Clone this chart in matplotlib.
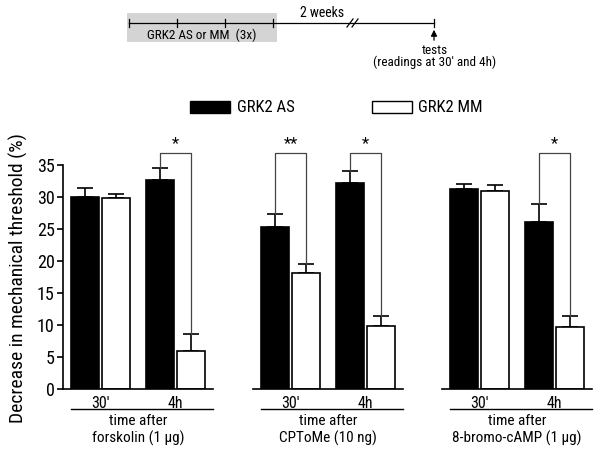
import matplotlib.pyplot as plt
from matplotlib.patches import Rectangle

plt.rcParams['font.family'] = ['Roboto Condensed', 'DejaVu Sans']

# data (% decrease in mechanical threshold)
times = ["30'", "4h"]
treatments = ["forskolin (1 \u03bcg)", "CPToMe (10 ng)", "8-bromo-cAMP (1 \u03bcg)"]
as_mean = [[30.0, 32.7], [25.3, 32.2], [31.2, 26.1]]
as_err = [[1.4, 1.9], [2.0, 1.8], [0.8, 2.8]]
mm_mean = [[29.9, 5.9], [18.1, 9.8], [31.0, 9.7]]
mm_err = [[0.6, 2.7], [1.4, 1.6], [0.9, 1.7]]
# significance brackets: (time index, label) per panel
sig = [[(1, '*')], [(0, '**'), (1, '*')], [(1, '*')]]

W, H = 600, 458
fig = plt.figure(figsize=(W / 100, H / 100), dpi=100)

# overlay for the timeline, legend and shared label (pixel coords)
ov = fig.add_axes([0, 0, 1, 1])
ov.set_xlim(0, W)
ov.set_ylim(H, 0)
ov.axis('off')

fs = 11
lefts = [63, 253, 442]
off, bw = 0.21, 0.373
for i, left in enumerate(lefts):
    ax = fig.add_axes([left / W, (H - 389) / H, 150 / W, 256 / H])
    x = [0, 1]
    xa = [g - off for g in x]
    xm = [g + off for g in x]
    ax.bar(xa, as_mean[i], bw, color='black', edgecolor='black', lw=1.2, zorder=2)
    ax.bar(xm, mm_mean[i], bw, color='white', edgecolor='black', lw=1.2, zorder=2)
    ax.errorbar(xa, as_mean[i], yerr=[[0, 0], as_err[i]], fmt='none', ecolor='black',
                elinewidth=1.2, capsize=6, capthick=1.2, zorder=1)
    ax.errorbar(xm, mm_mean[i], yerr=[[0, 0], mm_err[i]], fmt='none', ecolor='black',
                elinewidth=1.2, capsize=6, capthick=1.2, zorder=1)
    for t, lab in sig[i]:
        top = 36.9
        ya = as_mean[i][t] + as_err[i][t]
        ym = mm_mean[i][t] + mm_err[i][t]
        ax.plot([xa[t], xa[t], xm[t], xm[t]], [ya, top, top, ym], color='#444444',
                lw=0.9, clip_on=False)
        ax.text(t, top + 0.3, lab, ha='center', va='bottom', fontsize=12)
    ax.set_xlim(-0.5, 1.5)
    ax.set_ylim(0, 40)
    ax.spines['top'].set_visible(False)
    ax.spines['right'].set_visible(False)
    ax.spines['left'].set_bounds(0, 35)
    for s in ('left', 'bottom'):
        ax.spines[s].set_linewidth(1.2)
    ax.set_xticks([])
    ax.set_yticks(range(0, 36, 5))
    ax.tick_params(axis='y', length=4, width=1.2, labelsize=13, pad=2)
    if i > 0:
        ax.spines['left'].set_visible(False)
        ax.set_yticks([])
    for g, tl in zip(x, times):
        ax.text(g, -0.055, tl, transform=ax.get_xaxis_transform(), ha='center',
                va='center', fontsize=fs + 0.5)
    ax.plot([0.05, 1.0], [-0.078, -0.078], transform=ax.transAxes, color='black',
            lw=1.0, clip_on=False)
    ax.text(0.5, -0.125, 'time after', transform=ax.transAxes, ha='center',
            va='center', fontsize=fs)
    ax.text(0.5, -0.193, treatments[i], transform=ax.transAxes, ha='center',
            va='center', fontsize=fs)

fig.text(18 / W, 1 - 278 / H, 'Decrease in mechanical threshold (%)', rotation=90,
         ha='center', va='center', fontsize=14)

# legend
ov.add_patch(Rectangle((190, 101), 40, 12, facecolor='black', edgecolor='black', lw=1))
ov.text(237, 107, 'GRK2 AS', ha='left', va='center', fontsize=12)
ov.add_patch(Rectangle((372, 101), 40, 12, facecolor='white', edgecolor='black', lw=1))
ov.text(418, 107, 'GRK2 MM', ha='left', va='center', fontsize=12)

# treatment timeline
ov.add_patch(Rectangle((127, 13), 150, 29, facecolor='#d4d4d4', edgecolor='none'))
ov.plot([129, 434], [23, 23], color='black', lw=0.9)
for tx in [129, 177, 225, 273, 434]:
    ov.plot([tx, tx], [19, 27], color='black', lw=0.9)
for bx in [350, 355]:
    ov.plot([bx - 3, bx + 3], [27, 19], color='black', lw=0.9)
ov.annotate('', xy=(434, 27), xytext=(434, 43),
            arrowprops=dict(arrowstyle='-|>', color='black', lw=0.9, mutation_scale=9))
ov.text(202, 35, 'GRK2 AS or MM  (3x)', ha='center', va='center', fontsize=9.5)
ov.text(322, 13, '2 weeks', ha='center', va='center', fontsize=10)
ov.text(435, 50, 'tests', ha='center', va='center', fontsize=9.5)
ov.text(435, 62, "(readings at 30' and 4h)", ha='center', va='center', fontsize=9.5)

fig.savefig('out.png', dpi=100)
